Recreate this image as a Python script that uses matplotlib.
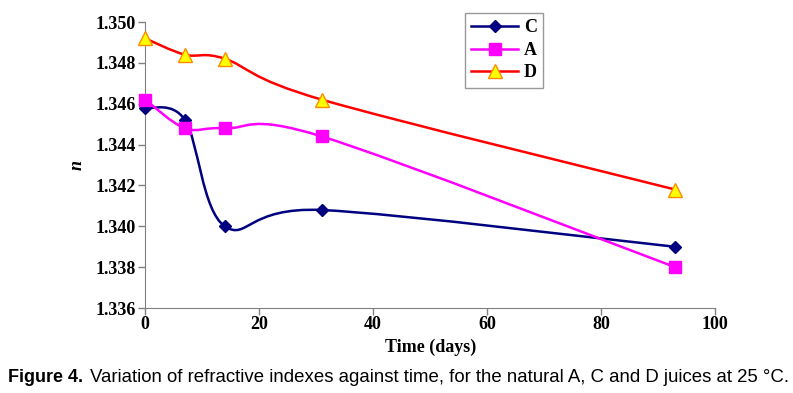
import matplotlib.pyplot as plt
import numpy as np
from matplotlib.path import Path
from matplotlib.patches import PathPatch
from matplotlib.lines import Line2D

days = [0, 7, 14, 31, 93]
n_C = [1.3458, 1.3452, 1.3400, 1.3408, 1.3390]
n_A = [1.3462, 1.3448, 1.3448, 1.3444, 1.3380]
n_D = [1.3492, 1.3484, 1.3482, 1.3462, 1.3418]

x_ticks = [0, 20, 40, 60, 80, 100]
y_ticks = [1.336, 1.338, 1.340, 1.342, 1.344, 1.346, 1.348, 1.350]


def smooth_path(x, y, ax, t=1/6):
    # Excel-like smoothed line: bezier through the points, built in display space
    pts = ax.transData.transform(np.column_stack([x, y]))
    verts = [pts[0]]
    codes = [Path.MOVETO]
    n = len(pts)
    for i in range(n - 1):
        p0 = pts[i - 1] if i > 0 else pts[i]
        p1 = pts[i]
        p2 = pts[i + 1]
        p3 = pts[i + 2] if i + 2 < n else pts[i + 1]
        c1 = p1 + (p2 - p0) * t
        c2 = p2 - (p3 - p1) * t
        verts += [c1, c2, p2]
        codes += [Path.CURVE4] * 3
    return Path(verts, codes)


serif = 'Liberation Serif'
fig = plt.figure(figsize=(7.93, 3.93), dpi=100)
ax = fig.add_axes([0.183, 0.216, 0.719, 0.728])
ax.set_xlim(0, 100)
ax.set_ylim(1.336, 1.350)

series = [
    ('C', n_C, '#000080', dict(marker='D', ms=6.5, mfc='#000080', mec='#000080')),
    ('A', n_A, '#FF00FF', dict(marker='s', ms=8, mfc='#FF00FF', mec='#FF00FF')),
    ('D', n_D, '#FF0000', dict(marker='^', ms=10, mfc='#FFFF00', mec='#FF8C00', mew=1)),
]

handles = []
for name, vals, col, mk in series:
    p = smooth_path(days, vals, ax)
    ax.add_patch(PathPatch(p, transform=None, fill=False, edgecolor=col, lw=1.8, zorder=2))
    ax.plot(days, vals, linestyle='none', zorder=3, clip_on=False, **mk)
    handles.append(Line2D([], [], color=col, lw=1.8, **mk))

for s in ['top', 'right']:
    ax.spines[s].set_visible(False)
for s in ['left', 'bottom']:
    ax.spines[s].set_color('#808080')
ax.tick_params(direction='out', length=5, color='#808080', width=1)
ax.set_xticks(x_ticks)
ax.set_yticks(y_ticks)
ax.set_yticklabels(['%.3f' % v for v in y_ticks])
for lab in ax.get_xticklabels() + ax.get_yticklabels():
    lab.set_fontfamily(serif)
    lab.set_fontweight('bold')
    lab.set_fontsize(13)
ax.tick_params(axis='x', pad=1)
ax.tick_params(axis='y', pad=2)

ax.set_xlabel('Time (days)', fontfamily=serif, fontweight='bold', fontsize=13, labelpad=4)
ax.set_ylabel('n', fontfamily=serif, fontweight='bold', fontstyle='italic', fontsize=13, labelpad=7)

leg = ax.legend(handles, ['C', 'A', 'D'], loc='upper left', bbox_to_anchor=(0.561, 1.031),
                borderaxespad=0,
                prop={'family': serif, 'weight': 'bold', 'size': 13}, frameon=True,
                fancybox=False, edgecolor='#808080', handlelength=2.6, handletextpad=0.3,
                labelspacing=0.3, borderpad=0.35)
leg.get_frame().set_linewidth(1)

fig.text(0.01, 0.04, 'Figure 4.', fontweight='bold', fontsize=13, fontfamily='Liberation Sans',
         va='center')
fig.text(0.113, 0.04, 'Variation of refractive indexes against time, for the natural A, C and D juices at 25 \u00b0C.',
         fontsize=13.4, fontfamily='Liberation Sans', va='center')

fig.savefig('out.png', dpi=100)
